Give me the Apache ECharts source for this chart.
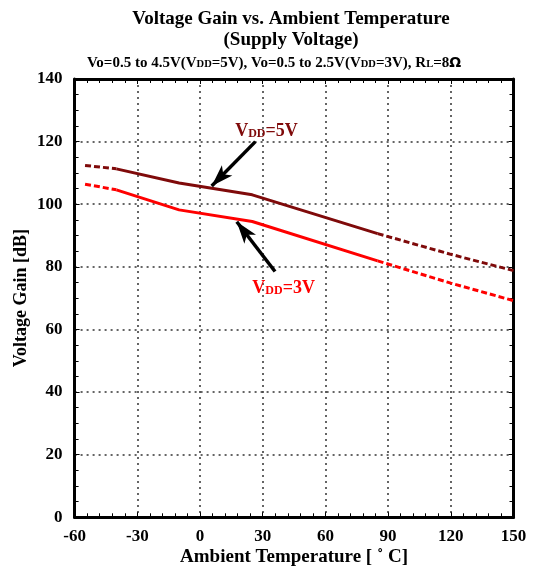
<!DOCTYPE html>
<html>
<head>
<meta charset="utf-8">
<script src="https://cdn.jsdelivr.net/npm/echarts@6/dist/echarts.min.js"></script>
<style>html,body{margin:0;padding:0;background:#fff;}#c{width:534px;height:570px;}</style>
</head>
<body>
<div id="c"></div>
<script>
// ---- data ----
const tempSolid5 = [-40, -10, 25, 85];
const gainSolid5 = [111.3, 106.8, 103.0, 90.6];
const tempDashLow5 = [-55, -40];
const gainDashLow5 = [112.4, 111.3];
const tempDashHigh5 = [85, 120, 150];
const gainDashHigh5 = [90.6, 84.0, 78.8];

const tempSolid3 = [-40, -10, 25, 85];
const gainSolid3 = [104.6, 98.2, 94.5, 81.9];
const tempDashLow3 = [-55, -40];
const gainDashLow3 = [106.4, 104.6];
const tempDashHigh3 = [85, 120, 150];
const gainDashHigh3 = [81.9, 74.8, 69.2];

const xTicks = [-60, -30, 0, 30, 60, 90, 120, 150];
const yTicks = [0, 20, 40, 60, 80, 100, 120, 140];

// annotation anchors (data coords)
const arrow5 = [[26.5, 120.0], [5.6, 105.8]];
const arrow3 = [[35.9, 78.5], [17.6, 94.4]];
const label5 = [31.8, 123.2];
const label3 = [40.0, 73.0];

const C5 = '#7f0a0a';
const C3 = '#ff0000';
const FF = '"Liberation Serif", "Times New Roman", serif';

const zip = (a, b) => a.map((v, i) => [v, b[i]]);

const chart = echarts.init(document.getElementById('c'), null, {renderer: 'canvas'});

const splitStyle = {show: true, lineStyle: {color: '#333', width: 1.5, type: [2, 4]}};
const axisLineStyle = {show: true, lineStyle: {color: '#000', width: 3}};

function xAx(pos, labels) {
  return {
    type: 'value', position: pos, min: xTicks[0], max: xTicks[xTicks.length - 1], interval: 30,
    axisLine: Object.assign({onZero: false}, axisLineStyle),
    axisTick: {show: true, inside: true, length: 5, lineStyle: {color: '#000', width: 1}},
    minorTick: {show: true, splitNumber: 5, length: 4, lineStyle: {color: '#000', width: 1}},
    splitLine: labels ? splitStyle : {show: false},
    axisLabel: labels ? {show: true, margin: 11, color: '#000', fontFamily: FF, fontWeight: 'bold', fontSize: 17} : {show: false},
    name: labels ? 'Ambient Temperature [ ˚ C]' : '',
    nameLocation: 'middle', nameGap: 30, nameMoveOverlap: false,
    nameTextStyle: {color: '#000', fontFamily: FF, fontWeight: 'bold', fontSize: 19}
  };
}
function yAx(pos, labels) {
  return {
    type: 'value', position: pos, min: yTicks[0], max: yTicks[yTicks.length - 1], interval: 20,
    axisLine: Object.assign({onZero: false}, axisLineStyle),
    axisTick: {show: true, inside: true, length: 5, lineStyle: {color: '#000', width: 1}},
    minorTick: {show: true, splitNumber: 4, length: 4, lineStyle: {color: '#000', width: 1}},
    splitLine: labels ? splitStyle : {show: false},
    axisLabel: labels ? {show: true, margin: 12, color: '#000', fontFamily: FF, fontWeight: 'bold', fontSize: 17} : {show: false},
    name: labels ? 'Voltage Gain [dB]' : '',
    nameLocation: 'middle', nameGap: 44, nameRotate: 90, nameMoveOverlap: false,
    nameTextStyle: {color: '#000', fontFamily: FF, fontWeight: 'bold', fontSize: 18}
  };
}

function line(data, color, dashed) {
  return {
    type: 'line', data: data, showSymbol: false, symbol: 'none', silent: true,
    lineStyle: {color: color, width: 3, type: dashed ? [6, 3] : 'solid'},
    z: 3
  };
}

const richSub = (color) => ({
  a: {fontFamily: FF, fontWeight: 'bold', fontSize: 18, color: color},
  b: {fontFamily: FF, fontWeight: 'bold', fontSize: 12, color: color, padding: [4, 0, 0, 0]}
});

const series = [
  line(zip(tempDashLow5, gainDashLow5), C5, true),
  line(zip(tempSolid5, gainSolid5), C5, false),
  line(zip(tempDashHigh5, gainDashHigh5), C5, true),
  line(zip(tempDashLow3, gainDashLow3), C3, true),
  line(zip(tempSolid3, gainSolid3), C3, false),
  line(zip(tempDashHigh3, gainDashHigh3), C3, true),
  {
    type: 'line', data: [], silent: true,
    markLine: {
      silent: true, animation: false,
      symbol: ['none', 'arrow'], symbolSize: [11, 22],
      lineStyle: {color: '#000', width: 3.5, type: 'solid'},
      label: {show: false},
      data: [
        [{coord: arrow5[0]}, {coord: arrow5[1]}],
        [{coord: arrow3[0]}, {coord: arrow3[1]}]
      ]
    },
    markPoint: {
      silent: true, animation: false, symbol: 'circle', symbolSize: 0,
      data: [
        {coord: label5, label: {show: true, position: 'inside', formatter: '{a|V}{b|DD}{a|=5V}', rich: richSub(C5)}},
        {coord: label3, label: {show: true, position: 'inside', formatter: '{a|V}{b|DD}{a|=3V}', rich: richSub(C3)}}
      ]
    }
  }
];

const subRich = {
  a: {fontFamily: FF, fontWeight: 'bold', fontSize: 15, color: '#000'},
  b: {fontFamily: FF, fontWeight: 'bold', fontSize: 10.5, color: '#000', padding: [3, 0, 0, 0]},
  o: {fontFamily: '"DejaVu Sans", sans-serif', fontWeight: 'bold', fontSize: 14, color: '#000'}
};

chart.setOption({
  animation: false,
  backgroundColor: '#fff',
  grid: {left: 74.6, right: 20.5, top: 79, bottom: 52.7, containLabel: false, outerBoundsMode: 'none'},
  xAxis: [xAx('bottom', true), xAx('top', false)],
  yAxis: [yAx('left', true), yAx('right', false)],
  series: series,
  graphic: [
    {type: 'text', x: 291, y: 19, style: {text: 'Voltage Gain vs. Ambient Temperature', font: 'bold 19px ' + FF, fill: '#000', textAlign: 'center', textVerticalAlign: 'middle'}},
    {type: 'text', x: 291, y: 40, style: {text: '(Supply Voltage)', font: 'bold 19px ' + FF, fill: '#000', textAlign: 'center', textVerticalAlign: 'middle'}},
    {type: 'text', x: 274, y: 63, style: {
      text: '{a|Vo=0.5 to 4.5V(V}{b|DD}{a|=5V), Vo=0.5 to 2.5V(V}{b|DD}{a|=3V), R}{b|L}{a|=8}{o|Ω}',
      rich: subRich, textAlign: 'center', textVerticalAlign: 'middle'}}
  ]
});
</script>
</body>
</html>
